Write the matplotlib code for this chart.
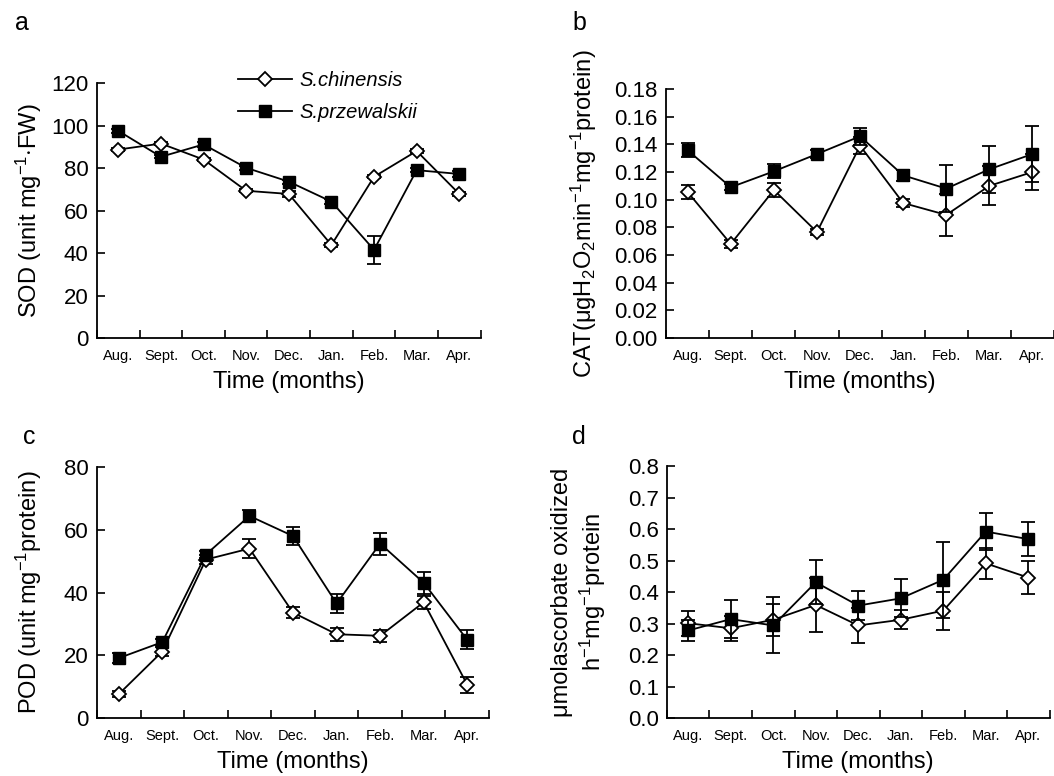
import matplotlib
matplotlib.use("Agg")
import matplotlib.pyplot as plt
import numpy as np

plt.rcParams['font.family'] = ['Liberation Sans', 'DejaVu Sans']
plt.rcParams['mathtext.fontset'] = 'custom'
plt.rcParams['mathtext.rm'] = 'Liberation Sans'
plt.rcParams['mathtext.it'] = 'Liberation Sans:italic'

months = ['Aug.', 'Sept.', 'Oct.', 'Nov.', 'Dec.', 'Jan.', 'Feb.', 'Mar.', 'Apr.']

# SOD
sod_chi = [88.7, 91.5, 84.0, 69.3, 67.8, 43.8, 75.9, 88.0, 67.8]
sod_chi_err = [0.8, 0.8, 0.8, 0.6, 1.2, 1.0, 0.8, 0.8, 1.0]
sod_prz = [97.5, 85.3, 91.1, 80.1, 73.6, 64.2, 41.5, 79.0, 77.2]
sod_prz_err = [1.0, 0.8, 1.0, 0.8, 1.0, 1.0, 6.5, 1.0, 1.5]

# CAT
cat_chi = [0.1055, 0.068, 0.107, 0.0766, 0.139, 0.0976, 0.089, 0.110, 0.120]
cat_chi_err = [0.005, 0.003, 0.005, 0.002, 0.006, 0.003, 0.015, 0.014, 0.013]
cat_prz = [0.1357, 0.109, 0.1205, 0.133, 0.1458, 0.1176, 0.108, 0.122, 0.133]
cat_prz_err = [0.005, 0.002, 0.005, 0.003, 0.006, 0.004, 0.017, 0.017, 0.020]

# POD
pod_chi = [7.6, 21.2, 50.5, 54.0, 33.6, 26.7, 26.2, 36.9, 10.6]
pod_chi_err = [1.0, 1.5, 1.5, 3.0, 1.8, 2.0, 2.0, 2.0, 2.6]
pod_prz = [19.1, 24.2, 52.1, 64.4, 58.0, 36.5, 55.6, 43.1, 24.9]
pod_prz_err = [1.5, 1.0, 1.0, 2.0, 3.0, 3.0, 3.5, 3.5, 3.0]

# APX
apx_chi = [0.301, 0.285, 0.312, 0.359, 0.294, 0.312, 0.341, 0.491, 0.446]
apx_chi_err = [0.040, 0.040, 0.051, 0.085, 0.056, 0.030, 0.060, 0.050, 0.053]
apx_prz = [0.278, 0.314, 0.294, 0.431, 0.357, 0.380, 0.439, 0.592, 0.568]
apx_prz_err = [0.033, 0.060, 0.089, 0.070, 0.047, 0.060, 0.120, 0.058, 0.054]

x = np.arange(1, len(months) + 1)

fig = plt.figure(figsize=(10.54, 7.76), dpi=100)
ax_a = fig.add_axes([0.092, 0.5644, 0.364, 0.3286])
ax_b = fig.add_axes([0.632, 0.5644, 0.368, 0.3209])
ax_c = fig.add_axes([0.092, 0.0747, 0.372, 0.3235])
ax_d = fig.add_axes([0.6328, 0.0747, 0.363, 0.3247])


def draw(ax, chi, chi_err, prz, prz_err, ymax, yticks, fmt, ylabel, ypad, letter, lx, ly):
    ax.errorbar(x, chi, yerr=chi_err, color='black', lw=1.3, capsize=5, capthick=1.3,
                elinewidth=1.3, marker='D', markersize=7, markerfacecolor='white',
                markeredgecolor='black', markeredgewidth=1.3, zorder=3,
                label='S.chinensis')
    ax.errorbar(x, prz, yerr=prz_err, color='black', lw=1.3, capsize=5, capthick=1.3,
                elinewidth=1.3, marker='s', markersize=8, markerfacecolor='black',
                markeredgecolor='black', zorder=4, label='S.przewalskii')
    ax.set_xlim(0.5, 9.5)
    ax.set_ylim(0, ymax)
    ax.set_yticks(yticks)
    ax.set_yticklabels([fmt.format(v) for v in yticks])
    ax.set_xticks(np.arange(0.5, 10, 1))
    ax.set_xticklabels([])
    ax.set_xticks(x, minor=True)
    ax.set_xticklabels(months, minor=True, fontsize=10.5)
    ax.tick_params(axis='x', which='minor', length=0, pad=8)
    ax.tick_params(axis='x', which='major', direction='in', length=6, width=1.2)
    ax.tick_params(axis='y', direction='in', length=6, width=1.2, labelsize=16, pad=6)
    for s in ['top', 'right']:
        ax.spines[s].set_visible(False)
    for s in ['left', 'bottom']:
        ax.spines[s].set_linewidth(1.3)
    ax.set_xlabel('Time (months)', fontsize=17, labelpad=6)
    ax.set_ylabel(ylabel, fontsize=17, labelpad=ypad)
    fig.text(lx, ly, letter, fontsize=18, ha='left', va='center')


draw(ax_a, sod_chi, sod_chi_err, sod_prz, sod_prz_err, 120, [0, 20, 40, 60, 80, 100, 120],
     '{:.0f}', r'SOD (unit mg$^{-1}$$\cdot$FW)', 5, 'a', 0.014, 0.97)
draw(ax_b, cat_chi, cat_chi_err, cat_prz, cat_prz_err, 0.18,
     [0.0, 0.02, 0.04, 0.06, 0.08, 0.10, 0.12, 0.14, 0.16, 0.18],
     '{:.2f}', r'CAT(μgH$_2$O$_2$min$^{-1}$mg$^{-1}$protein)', 11, 'b', 0.543, 0.97)
draw(ax_c, pod_chi, pod_chi_err, pod_prz, pod_prz_err, 80, [0, 20, 40, 60, 80],
     '{:.0f}', r'POD (unit mg$^{-1}$protein)', 14, 'c', 0.022, 0.437)
draw(ax_d, apx_chi, apx_chi_err, apx_prz, apx_prz_err, 0.8,
     [0.0, 0.1, 0.2, 0.3, 0.4, 0.5, 0.6, 0.7, 0.8],
     '{:.1f}', 'μmolascorbate oxidized\n' + r'h$^{-1}$mg$^{-1}$protein', 14, 'd', 0.543, 0.437)

handles, labels = ax_a.get_legend_handles_labels()
handles = [h[0] for h in handles]
ax_a.legend(handles, labels, loc='upper left', bbox_to_anchor=(0.32, 1.12), frameon=False,
            prop={'size': 14.5, 'style': 'italic'}, handlelength=2.7, handletextpad=0.35,
            labelspacing=0.65)

fig.savefig('out.png', dpi=100)
